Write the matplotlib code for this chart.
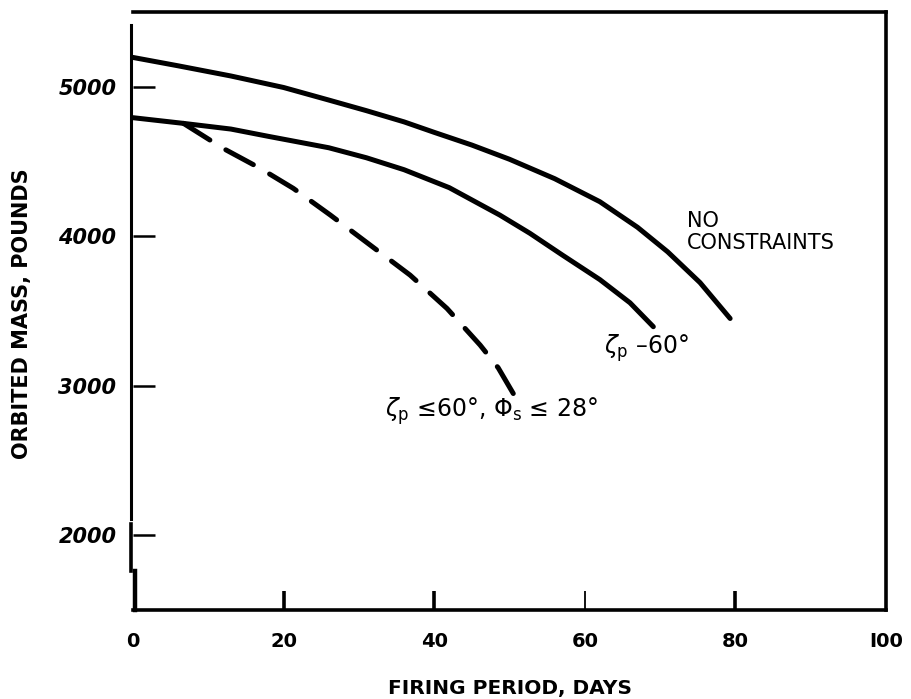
import matplotlib
matplotlib.use("Agg")
import matplotlib.pyplot as plt
import numpy as np

# Data
days_nc = [0, 6, 13, 20, 26, 31, 36, 40, 45, 50, 56, 62, 67, 71, 75.3, 79.3]
mass_nc = [5196, 5140, 5072, 4995, 4911, 4840, 4765, 4695, 4610, 4515, 4385,
           4231, 4060, 3896, 3690, 3450]

days_zp = [0, 6.7, 13, 18, 26, 31, 36, 42, 48.7, 52.7, 57, 62, 66, 69.1]
mass_zp = [4793, 4755, 4717, 4668, 4592, 4525, 4445, 4325, 4142, 4020,
           3875, 3710, 3555, 3395]

days_dash = [6.7, 12, 16.9, 21.3, 26.2, 31.5, 36.8, 41.7, 46.1, 48.5, 50.5]
mass_dash = [4755, 4587, 4454, 4320, 4142, 3941, 3740, 3517, 3272, 3120, 2948]

xticks = [0, 20, 40, 60, 80, 100]
xtick_labels = ["0", "20", "40", "60", "80", "I00"]
yticks = [2000, 3000, 4000, 5000]
ytick_labels = ["2000", "3000", "4000", "5000"]

fig = plt.figure(figsize=(9.12, 6.99), dpi=100)
ax = fig.add_axes([133/912, 1-610/699, (886-133)/912, (610-12)/699])
ax.set_xlim(0, 100)
ax.set_ylim(1500, 5500)

lw = 3.6
ax.plot(days_nc, mass_nc, color="black", lw=lw, solid_capstyle="round",
        solid_joinstyle="round")
ax.plot(days_zp, mass_zp, color="black", lw=lw, solid_capstyle="round",
        solid_joinstyle="round")

# dash pattern stretched slightly so both ends of the dashed curve are dashes
pix = ax.transData.transform(np.column_stack([days_dash, mass_dash]))
L = np.sum(np.hypot(*np.diff(pix, axis=0).T)) * 72 / fig.dpi
on, off = 6 * lw, 3.6 * lw
n = max(1, round((L - on) / (on + off)))
s = L / (n * (on + off) + on)
ax.plot(days_dash, mass_dash, color="black", lw=lw,
        ls=(0, (6 * s, 3.6 * s)), dash_capstyle="round",
        dash_joinstyle="round")

# spines
ax.spines["left"].set_visible(False)
for sp in ["top", "right", "bottom"]:
    ax.spines[sp].set_linewidth(2.6)
# broken left spine
ax.plot([-0.2, -0.2], [2107, 5413], color="black", lw=2.2, clip_on=False)
ax.plot([-0.2, -0.2], [1760, 2073], color="black", lw=2.6, clip_on=False)
ax.plot([0.3, 0.3], [1500, 1760], color="black", lw=3.2, clip_on=False)

ax.set_xticks(xticks)
ax.set_xticklabels(xtick_labels)
ax.set_yticks(yticks)
ax.set_yticklabels(ytick_labels)
ax.tick_params(axis="x", direction="in", length=14, width=2.6, pad=16,
               labelsize=14)
ax.tick_params(axis="y", direction="in", length=16, width=1.8, pad=12,
               labelsize=15)
for t in ax.get_xticklabels():
    t.set_fontweight("bold")
for t in ax.get_yticklabels():
    t.set_fontstyle("italic")
    t.set_fontweight("bold")
xt = ax.xaxis.get_major_ticks()
xt[0].tick1line.set_visible(False)
xt[-1].tick1line.set_visible(False)
xt[3].tick1line.set_markeredgewidth(1.3)

ax.set_xlabel("FIRING PERIOD, DAYS", fontsize=14.5, fontweight="bold",
              labelpad=20)
fig.text(22/912, 1-314/699, "ORBITED MASS, POUNDS", rotation=90,
         fontsize=15, fontweight="bold", ha="center", va="center")

ax.text(73.6, 4030, "NO\nCONSTRAINTS", fontsize=15, ha="left", va="center",
        linespacing=1.1)
ax.text(62.5, 3250, r"$\zeta_\mathrm{p}$ –60°", fontsize=17, ha="left",
        va="center")
ax.text(33.5, 2830, r"$\zeta_\mathrm{p}$ ≤60°, $\Phi_\mathrm{s}$ ≤ 28°",
        fontsize=17, ha="left", va="center")

fig.savefig("out.png", dpi=100)
